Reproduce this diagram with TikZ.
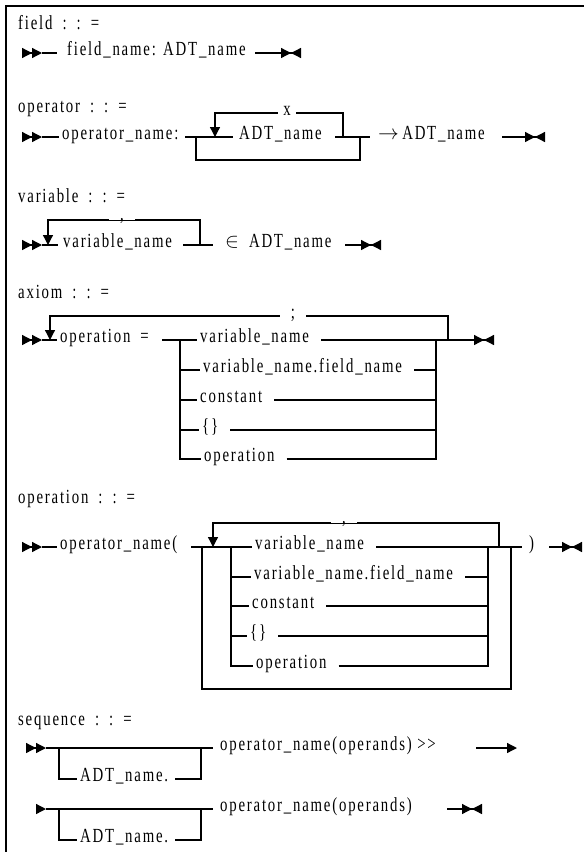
\documentclass[tikz,border=0pt]{standalone}
\usepackage{fontspec}
\setmainfont{Liberation Serif}[FakeStretch=0.74,LetterSpace=9]
\usetikzlibrary{arrows.meta}
\tikzset{
  rail/.style={line width=1.3pt},
  frameline/.style={line width=2.5pt},
  word/.style={inner sep=0pt, anchor=mid west, font={\fontsize{20}{22}\selectfont}},
  heading/.style={inner sep=0pt, anchor=base west, font={\fontsize{20}{22}\selectfont}},
  gaplabel/.style={fill=white, inner xsep=11pt, inner ysep=0pt, text height=1.4ex, text depth=0pt, anchor=mid, font={\fontsize{20}{22}\selectfont}},
  startmark/.style={-{Triangle[length=10pt,width=10pt]Triangle[length=10pt,width=10pt]}},
  onemark/.style={-{Triangle[length=10pt,width=10pt]}},
  endmark/.style={-{Triangle[length=10pt,width=10pt]Triangle[length=10pt,width=10pt,reversed]}}
}
\begin{document}
\begin{tikzpicture}[x=1pt, y=-1pt]
\useasboundingbox (0,0) rectangle (584,852);
\coordinate (boxTR) at (584,5.8);
\coordinate (boxTL) at (6.2,5.8);
\coordinate (boxBL) at (6.2,852);
\draw[frameline] (boxTR) -- (boxTL) -- (boxBL);

\node[heading] (fieldHead) at (18,29) {field\enspace:\enspace:\enspace=};
\coordinate (fieldS) at (22,53);
\coordinate (fieldA) at (42,53);
\coordinate (fieldB) at (57,53);
\node[word] (fieldName) at (67,53) {field\_name: ADT\_name};
\coordinate (fieldC) at (255,53);
\coordinate (fieldE) at (301,53);
\draw[rail, startmark] (fieldS) -- (fieldA);
\draw[rail] (fieldA) -- (fieldB);
\draw[rail, endmark] (fieldC) -- (fieldE);

\node[heading] (opHead) at (18,112) {operator\enspace:\enspace:\enspace=};
\coordinate (opS) at (22,137);
\coordinate (opA) at (42,137);
\coordinate (opB) at (59,137);
\node[word] (opName) at (62,137) {operator\_name:};
\coordinate (opC) at (185,137);
\coordinate (opSplit) at (196,137);
\coordinate (opBack) at (215,137);
\coordinate (opD) at (233,137);
\node[word] (opArg) at (239,137) {ADT\_name};
\coordinate (opF) at (335,137);
\coordinate (opLoop) at (343,137);
\coordinate (opJoin) at (360,137);
\coordinate (opG) at (370,137);
\node[word] (opRes) at (378,137) {$\rightarrow$\,ADT\_name};
\coordinate (opH) at (502,137);
\coordinate (opE) at (545,137);
\draw[rail, startmark] (opS) -- (opA);
\draw[rail] (opA) -- (opB);
\draw[rail] (opC) -- (opD);
\draw[rail] (opF) -- (opG);
\draw[rail] (opSplit) -- ++(0,23) -| (opJoin);
\draw[rail, onemark] (opLoop) -- ++(0,-24) -| (opBack);
\node[gaplabel, inner xsep=5pt] (opX) at (287,113) {x};
\draw[rail, endmark] (opH) -- (opE);

\node[heading] (varHead) at (18,202) {variable\enspace:\enspace:\enspace=};
\coordinate (varS) at (22,245);
\coordinate (varA) at (42,245);
\coordinate (varBack) at (48,245);
\coordinate (varB) at (58,245);
\coordinate (varC) at (183,245);
\coordinate (varLoop) at (200,245);
\coordinate (varD) at (213,245);
\coordinate (varH) at (345,245);
\coordinate (varE) at (381,245);
\draw[rail, startmark] (varS) -- (varA);
\draw[rail] (varA) -- (varB);
\draw[rail] (varC) -- (varD);
\draw[rail, onemark] (varLoop) -- ++(0,-25) -| (varBack);
\node[gaplabel, yshift=2pt] (varComma) at (122,220) {,};
\node[word] (varName) at (63,245) {variable\_name};
\node[word] (varType) at (225,245) {$\in$\enspace ADT\_name};
\draw[rail, endmark] (varH) -- (varE);

\node[heading] (axHead) at (18,298) {axiom\enspace:\enspace:\enspace=};
\coordinate (axS) at (22,340);
\coordinate (axA) at (42,340);
\coordinate (axBack) at (50,340);
\coordinate (axB) at (57,340);
\node[word] (axOp) at (60,340) {operation\enspace=};
\coordinate (axC) at (162,340);
\coordinate (axL) at (180,340);
\node[word] (axV) at (200,340) {variable\_name};
\node[word] (axVF) at (203,370) {variable\_name.field\_name};
\node[word] (axK) at (200,400) {constant};
\node[word] (axSet) at (202,430) {\{\}};
\node[word] (axO) at (204,459) {operation};
\coordinate (axR) at (436,340);
\coordinate (axLoop) at (448,340);
\coordinate (axE) at (494,340);
\draw[rail, startmark] (axS) -- (axA);
\draw[rail] (axA) -- (axB);
\draw[rail] (axC) -- ([xshift=-3pt]axV.mid west);
\draw[rail] (axL) |- ([xshift=-3pt]axO.mid west);
\draw[rail] (axVF.mid west -| axL) -- ([xshift=-3pt]axVF.mid west);
\draw[rail] (axK.mid west -| axL) -- ([xshift=-3pt]axK.mid west);
\draw[rail] (axSet.mid west -| axL) -- ([xshift=-3pt]axSet.mid west);
\draw[rail] ([xshift=12pt]axV.mid east) -- (axR);
\draw[rail] ([xshift=12pt]axVF.mid east) -- (axVF.mid east -| axR);
\draw[rail] ([xshift=12pt]axK.mid east) -- (axK.mid east -| axR);
\draw[rail] ([xshift=12pt]axSet.mid east) -- (axSet.mid east -| axR);
\draw[rail] ([xshift=12pt]axO.mid east) -| (axR);
\draw[rail, onemark] (axLoop) -- ++(0,-24) -| (axBack);
\node[gaplabel] (axSemi) at (293,316) {;};
\draw[rail, endmark] (axR) -- (axE);

\node[heading] (opnHead) at (18,503) {operation\enspace:\enspace:\enspace=};
\coordinate (opnS) at (22,547);
\coordinate (opnA) at (42,547);
\coordinate (opnB) at (57,547);
\node[word] (opnName) at (60,547) {operator\_name(};
\coordinate (opnC) at (191,547);
\coordinate (opnOL) at (202,547);
\coordinate (opnBack) at (213,547);
\coordinate (opnIL) at (231,547);
\node[word] (opnV) at (255,547) {variable\_name};
\node[word] (opnVF) at (254,577) {variable\_name.field\_name};
\node[word] (opnK) at (252,606) {constant};
\node[word] (opnSet) at (250,636) {\{\}};
\node[word] (opnO) at (256,666) {operation};
\coordinate (opnIR) at (488,547);
\coordinate (opnLoop) at (499,547);
\coordinate (opnOR) at (511,547);
\coordinate (opnD) at (522,547);
\node[word] (opnClose) at (529,547) {)};
\coordinate (opnH) at (549,547);
\coordinate (opnE) at (582,547);
\draw[rail, startmark] (opnS) -- (opnA);
\draw[rail] (opnA) -- (opnB);
\draw[rail] (opnC) -- ([xshift=-3pt]opnV.mid west);
\draw[rail] (opnOL) -- ++(0,142) -| (opnOR);
\draw[rail] (opnIL) |- ([xshift=-3pt]opnO.mid west);
\draw[rail] (opnVF.mid west -| opnIL) -- ([xshift=-3pt]opnVF.mid west);
\draw[rail] (opnK.mid west -| opnIL) -- ([xshift=-3pt]opnK.mid west);
\draw[rail] (opnSet.mid west -| opnIL) -- ([xshift=-3pt]opnSet.mid west);
\draw[rail] ([xshift=12pt]opnV.mid east) -- (opnD);
\draw[rail] ([xshift=12pt]opnVF.mid east) -- (opnVF.mid east -| opnIR);
\draw[rail] ([xshift=12pt]opnK.mid east) -- (opnK.mid east -| opnIR);
\draw[rail] ([xshift=12pt]opnSet.mid east) -- (opnSet.mid east -| opnIR);
\draw[rail] ([xshift=12pt]opnO.mid east) -| (opnIR);
\draw[rail, onemark] (opnLoop) -- ++(0,-24) -| (opnBack);
\node[gaplabel, yshift=2pt] (opnComma) at (344,523) {,};
\draw[rail, endmark] (opnH) -- (opnE);

\node[heading] (seqHead) at (18,725) {sequence\enspace:\enspace:\enspace=};
\coordinate (seqAS) at (26,748);
\coordinate (seqAA) at (46,748);
\coordinate (seqAL) at (59,748);
\coordinate (seqAR) at (201,748);
\coordinate (seqAD) at (213,748);
\node[word] (seqAT) at (80,779) {ADT\_name.};
\node[word] (seqACall) at (220,748) {operator\_name(operands) >{}>};
\coordinate (seqAF) at (476,748);
\coordinate (seqAE) at (517,748);
\draw[rail, startmark] (seqAS) -- (seqAA);
\draw[rail] (seqAA) -- (seqAD);
\draw[rail] (seqAL) |- ([xshift=-3pt]seqAT.mid west);
\draw[rail] ([xshift=7pt]seqAT.mid east) -| (seqAR);
\draw[rail, onemark] (seqAF) -- (seqAE);

\coordinate (seqBS) at (36,809);
\coordinate (seqBA) at (46,809);
\coordinate (seqBL) at (59,809);
\coordinate (seqBR) at (201,809);
\coordinate (seqBD) at (213,809);
\node[word] (seqBT) at (80,840) {ADT\_name.};
\node[word] (seqBCall) at (220,809) {operator\_name(operands)};
\coordinate (seqBF) at (447,809);
\coordinate (seqBE) at (482,809);
\draw[rail, onemark] (seqBS) -- (seqBA);
\draw[rail] (seqBA) -- (seqBD);
\draw[rail] (seqBL) |- ([xshift=-3pt]seqBT.mid west);
\draw[rail] ([xshift=7pt]seqBT.mid east) -| (seqBR);
\draw[rail, endmark] (seqBF) -- (seqBE);
\end{tikzpicture}
\end{document}
